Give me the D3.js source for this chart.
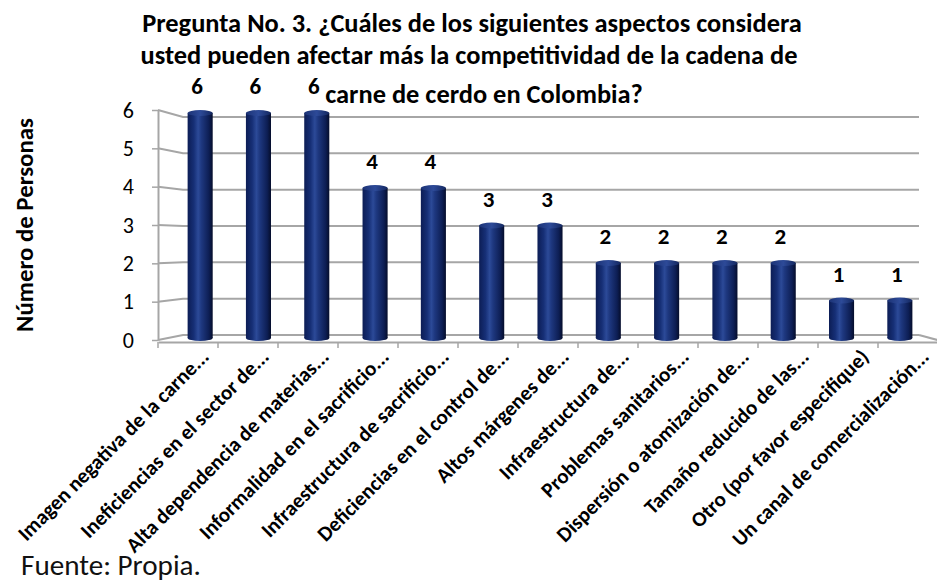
<!DOCTYPE html>
<html>
<head>
<meta charset="utf-8">
<script src="https://cdn.jsdelivr.net/npm/d3@7"></script>
<style>
    body { margin: 0; background: #fff; }
    svg { display: block; font-family: Carlito, Calibri, Lato, sans-serif; }
</style>
</head>
<body>
<svg class="chart" width="937" height="582"></svg>
<script>
// data
var categories = [
    'Imagen negativa de la carne...',
    'Ineficiencias en el sector de...',
    'Alta dependencia de materias...',
    'Informalidad en el sacrificio...',
    'Infraestructura de sacrificio...',
    'Deficiencias en el control de...',
    'Altos márgenes de...',
    'Infraestructura de...',
    'Problemas sanitarios...',
    'Dispersión o atomización de...',
    'Tamaño reducido de las...',
    'Otro (por favor especifique)',
    'Un canal de comercialización...'
]
var values = [6, 6, 6, 4, 4, 3, 3, 2, 2, 2, 2, 1, 1]
var yTicks = [0, 1, 2, 3, 4, 5, 6]
var titleLines = [
    'Pregunta No. 3.  ¿Cuáles de los siguientes aspectos  considera',
    'usted pueden  afectar más la competitividad de la cadena de',
    'carne de cerdo en Colombia?'
]
var yLabel = 'Número de Personas'
var source = 'Fuente: Propia.'

var svg = d3.select('.chart')

// shrink/grow a text so it spans a given width
function fitFont(sel, size, target) {
    sel.style('font-size', size + 'px')
    var w = sel.node().getComputedTextLength()
    var s = size * target / w
    sel.style('font-size', s + 'px')
    return s
}

// perspective: front edge, back wall, cylinders
var xFront = d3.scaleBand().domain(categories).range([158, 938])
var xBar = d3.scaleBand().domain(categories).range([171, 929]).paddingInner(0.57).paddingOuter(0.285)
var yFront = d3.scaleLinear().domain([0, 6]).range([340, 110])
var yBack = d3.scaleLinear().domain([0, 6]).range([335, 117])
var yBar = d3.scaleLinear().domain([0, 6]).range([338, 113])
var wallLeft = 183, wallRight = 919

var defs = svg.append('defs')
var grad = defs.append('linearGradient').attr('id', 'cyl').attr('x1', 0).attr('x2', 1).attr('y1', 0).attr('y2', 0)
grad.append('stop').attr('offset', '0%').attr('stop-color', '#0c1d55')
grad.append('stop').attr('offset', '25%').attr('stop-color', '#162f76')
grad.append('stop').attr('offset', '42%').attr('stop-color', '#2c4a98')
grad.append('stop').attr('offset', '55%').attr('stop-color', '#1e3880')
grad.append('stop').attr('offset', '85%').attr('stop-color', '#0d1e54')
grad.append('stop').attr('offset', '100%').attr('stop-color', '#050d2b')
var gradTop = defs.append('linearGradient').attr('id', 'cylTop').attr('x1', 0).attr('x2', 1).attr('y1', 0).attr('y2', 0)
gradTop.append('stop').attr('offset', '0%').attr('stop-color', '#1c3376')
gradTop.append('stop').attr('offset', '50%').attr('stop-color', '#2d4a98')
gradTop.append('stop').attr('offset', '100%').attr('stop-color', '#13275f')

// gridlines with the slanted left side wall
var grid = svg.append('g').attr('class', 'grid')
grid.selectAll('path').data(yTicks)
    .enter()
    .append('path')
    .attr('d', (d) => 'M158,' + yFront(d) + 'L' + wallLeft + ',' + yBack(d) + 'L' + wallRight + ',' + yBack(d))
    .attr('fill', 'none')
    .attr('stroke', '#a6a6a6')
    .attr('stroke-width', 2)

// floor right edge
grid.append('path')
    .attr('d', 'M' + wallRight + ',' + yBack(0) + 'L945,' + (yFront(0) + 2))
    .attr('fill', 'none').attr('stroke', '#a6a6a6').attr('stroke-width', 2)

var xAxis = d3.axisBottom(xFront).tickSize(6).tickFormat('').tickSizeOuter(0)
var xAxisG = svg.append('g').attr('class', 'x-axis')
    .attr('transform', 'translate(0,' + (yFront(0) + 2) + ')')
    .call(xAxis)
xAxisG.select('.domain').attr('stroke', '#a6a6a6').attr('stroke-width', 2)
// ticks sit on category borders
xAxisG.selectAll('.tick').attr('transform', (d) => 'translate(' + xFront(d) + ',0)')
xAxisG.selectAll('.tick line').attr('stroke', '#a6a6a6').attr('stroke-width', 1.5)

var yAxis = d3.axisLeft(yFront).tickValues(yTicks).tickFormat(d3.format('d'))
    .tickSize(6).tickSizeOuter(0).tickPadding(18)
var yAxisG = svg.append('g').attr('class', 'y-axis')
    .attr('transform', 'translate(158,0)')
    .call(yAxis)
yAxisG.select('.domain').attr('stroke', '#a6a6a6').attr('stroke-width', 2)
yAxisG.selectAll('.tick line').attr('stroke', '#a6a6a6').attr('stroke-width', 1.5)
yAxisG.selectAll('.tick text')
    .style('font-size', '22px')
    .attr('fill', '#000')
    .style('font-family', 'Carlito, Calibri, Lato, sans-serif')

// cylinders
var bars = svg.selectAll('.bar').data(values)
    .enter()
    .append('g')
    .attr('class', 'bar')
    .attr('transform', (d, i) => 'translate(' + xBar(categories[i]) + ',0)')

var bw = xBar.bandwidth()
var ry = 3
bars.append('ellipse')
    .attr('cx', bw / 2).attr('cy', yBar(0))
    .attr('rx', bw / 2).attr('ry', ry)
    .attr('fill', 'url(#cyl)')
bars.append('rect')
    .attr('x', 0).attr('width', bw)
    .attr('y', (d) => yBar(d))
    .attr('height', (d) => yBar(0) - yBar(d))
    .attr('fill', 'url(#cyl)')
bars.append('ellipse')
    .attr('cx', bw / 2).attr('cy', (d) => yBar(d))
    .attr('rx', bw / 2).attr('ry', ry)
    .attr('fill', 'url(#cylTop)')

// value labels
bars.append('text')
    .text((d) => d)
    .attr('x', bw / 2 - 3)
    .attr('y', (d) => yBar(d) - 19)
    .attr('text-anchor', 'middle')
    .style('font-size', '23px')
    .style('font-weight', 'bold')
    .attr('fill', '#000')

// category labels, rotated
var labels = svg.append('g').attr('class', 'x-labels')
var lab = labels.selectAll('text').data(categories)
    .enter()
    .append('text')
    .text((d) => d)
    .attr('text-anchor', 'end')
    .attr('transform', (d) => 'translate(' + (xFront(d) + xFront.bandwidth() / 2 + 11) + ',347) rotate(-45)')
    .attr('dy', '0.75em')
    .style('font-weight', 'bold')
    .attr('fill', '#000')
var labSize = fitFont(d3.select(lab.nodes()[0]), 16, 260)
lab.style('font-size', labSize + 'px')

// title
var title = svg.append('g').attr('class', 'title')
var tl = title.selectAll('text').data(titleLines)
    .enter()
    .append('text')
    .text((d) => d)
    .attr('x', (d, i) => [472, 469, 484][i])
    .attr('y', (d, i) => [32, 64, 103][i])
    .attr('text-anchor', 'middle')
    .style('font-weight', 'bold')
    .attr('fill', '#000')
var tSize = fitFont(d3.select(tl.nodes()[0]), 22, 660)
tl.style('font-size', tSize + 'px')

// y label
var yl = svg.append('text')
    .text(yLabel)
    .attr('class', 'y-label')
    .attr('text-anchor', 'middle')
    .attr('transform', 'translate(33,225) rotate(-90)')
    .style('font-weight', 'bold')
    .attr('fill', '#000')
fitFont(yl, 20, 214)

// source note
var src = svg.append('text')
    .text(source)
    .attr('x', 21)
    .attr('y', 575)
    .attr('fill', '#111')
fitFont(src, 24, 180)
</script>
</body>
</html>
